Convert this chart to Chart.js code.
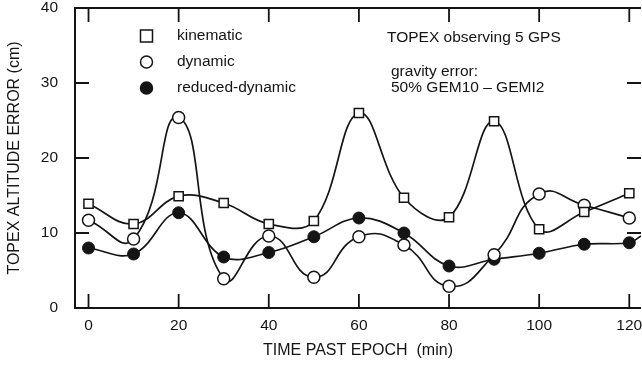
<!DOCTYPE html>
<html>
<head>
    <title>TOPEX altitude error</title>
    <script src="https://cdn.jsdelivr.net/npm/chart.js"></script>
    <style>
        body { margin: 0; background: #fff; }
    </style>
</head>
<body>
    <canvas id="topexChart" width="642" height="366"></canvas>

    <script>
        // time past epoch (min)
        const minutes = [0, 10, 20, 30, 40, 50, 60, 70, 80, 90, 100, 110, 120];

        // altitude error (cm)
        const kinematic = [13.9, 11.2, 14.9, 14.0, 11.2, 11.6, 26.0, 14.7, 12.1, 24.9, 10.5, 12.8, 15.3];
        const dynamic = [11.7, 9.2, 25.4, 3.9, 9.6, 4.1, 9.5, 8.4, 2.9, 7.1, 15.2, 13.7, 12.0];
        const reducedDynamic = [8.0, 7.2, 12.7, 6.8, 7.4, 9.5, 12.0, 10.0, 5.6, 6.5, 7.3, 8.5, 8.7];
        // the reduced-dynamic curve runs on past the last marker to the frame
        const reducedTail = { x: 122.6, y: 9.6 };

        const xTicks = [0, 20, 40, 60, 80, 100, 120];
        const yTicks = [0, 10, 20, 30, 40];

        const seriesNames = ["kinematic", "dynamic", "reduced-dynamic"];
        const noteLines = ["TOPEX observing 5 GPS", "gravity error:", "50% GEM10 \u2013 GEMI2"];

        const ink = "#141414";
        const font = "Liberation Sans, Arial, sans-serif";

        function toPoints(values) {
            return values.map((v, i) => ({ x: minutes[i], y: v }));
        }

        // frame, inward ticks, legend and notes
        const framePlugin = {
            id: "frame",
            afterDatasetsDraw(chart) {
                const ctx = chart.ctx;
                const a = chart.chartArea;
                const xs = chart.scales.x;
                const ys = chart.scales.y;
                ctx.save();
                ctx.strokeStyle = ink;
                ctx.lineWidth = 2;
                ctx.beginPath();
                ctx.moveTo(a.right, a.top);
                ctx.lineTo(a.left, a.top);
                ctx.lineTo(a.left, a.bottom);
                ctx.lineTo(a.right, a.bottom);
                ctx.stroke();

                ctx.lineWidth = 1.8;
                ctx.beginPath();
                xTicks.forEach(t => {
                    const px = xs.getPixelForValue(t);
                    ctx.moveTo(px, a.bottom);
                    ctx.lineTo(px, a.bottom - 14);
                    ctx.moveTo(px, a.top);
                    ctx.lineTo(px, a.top + 14);
                });
                yTicks.slice(1, 4).forEach(t => {
                    const py = ys.getPixelForValue(t);
                    ctx.moveTo(a.left, py);
                    ctx.lineTo(a.left + 14, py);
                    ctx.moveTo(a.right, py);
                    ctx.lineTo(a.right - 14, py);
                });
                ctx.stroke();

                // legend
                ctx.font = "15.5px " + font;
                ctx.textBaseline = "middle";
                const rows = [36, 62, 88];
                chart.data.datasets.forEach((ds, i) => {
                    const y = rows[i];
                    ctx.lineWidth = 1.5;
                    ctx.strokeStyle = ink;
                    ctx.fillStyle = ds.pointBackgroundColor;
                    ctx.beginPath();
                    if (ds.pointStyle === "rect") {
                        ctx.rect(140.5, y - 6, 12, 12);
                    } else {
                        ctx.arc(146.5, y, 6, 0, Math.PI * 2);
                    }
                    ctx.fill();
                    ctx.stroke();
                    ctx.fillStyle = ink;
                    ctx.fillText(seriesNames[i], 177, y);
                });

                ctx.fillText(noteLines[0], 387, 38);
                ctx.fillText(noteLines[1], 391, 72);
                ctx.fillText(noteLines[2], 391, 88);
                ctx.restore();
            }
        };

        const ctx = document.getElementById("topexChart").getContext("2d");
        const myChart = new Chart(ctx, {
            type: "line",
            data: {
                datasets: [
                    {
                        label: seriesNames[0],
                        data: toPoints(kinematic),
                        pointStyle: "rect",
                        pointRadius: 6.5,
                        pointBackgroundColor: "#ffffff",
                        pointBorderColor: ink,
                        pointBorderWidth: 1.5,
                        borderColor: ink,
                        borderWidth: 1.7,
                        tension: 0.4
                    },
                    {
                        label: seriesNames[1],
                        data: toPoints(dynamic),
                        pointStyle: "circle",
                        pointRadius: 6,
                        pointBackgroundColor: "#ffffff",
                        pointBorderColor: ink,
                        pointBorderWidth: 1.5,
                        borderColor: ink,
                        borderWidth: 1.7,
                        tension: 0.5
                    },
                    {
                        label: seriesNames[2],
                        data: toPoints(reducedDynamic).concat([reducedTail]),
                        pointStyle: "circle",
                        pointRadius: c => (c.dataIndex < reducedDynamic.length ? 6 : 0),
                        pointBackgroundColor: ink,
                        pointBorderColor: ink,
                        pointBorderWidth: 1,
                        borderColor: ink,
                        borderWidth: 1.7,
                        tension: 0.4
                    }
                ]
            },
            options: {
                responsive: false,
                animation: false,
                layout: { autoPadding: false, padding: { top: 8, right: 1, left: 0, bottom: 0 } },
                plugins: {
                    legend: { display: false },
                    tooltip: { enabled: false }
                },
                scales: {
                    x: {
                        type: "linear",
                        min: -3,
                        max: 122.6,
                        afterFit: s => {
                            s.height = 58;
                            s.paddingLeft = 0;
                            s.paddingRight = 0;
                        },
                        afterBuildTicks: s => { s.ticks = xTicks.map(v => ({ value: v })); },
                        grid: { display: false, drawTicks: false },
                        border: { display: false },
                        ticks: {
                            color: ink,
                            font: { family: font, size: 15.5 },
                            padding: 8,
                            maxRotation: 0
                        },
                        title: {
                            display: true,
                            text: "TIME PAST EPOCH  (min)",
                            color: ink,
                            font: { family: font, size: 16 },
                            padding: { top: 6, bottom: 6 }
                        }
                    },
                    y: {
                        min: 0,
                        max: 40,
                        afterFit: s => {
                            s.width = 75;
                            s.paddingTop = 0;
                            s.paddingBottom = 0;
                        },
                        afterBuildTicks: s => { s.ticks = yTicks.map(v => ({ value: v })); },
                        grid: { display: false, drawTicks: false },
                        border: { display: false },
                        ticks: {
                            color: ink,
                            font: { family: font, size: 15.5 },
                            padding: 17
                        },
                        title: {
                            display: true,
                            text: "TOPEX ALTITUDE ERROR (cm)",
                            color: ink,
                            font: { family: font, size: 16 },
                            padding: { top: 5, bottom: 5 }
                        }
                    }
                }
            },
            plugins: [framePlugin]
        });
    </script>
</body>
</html>
